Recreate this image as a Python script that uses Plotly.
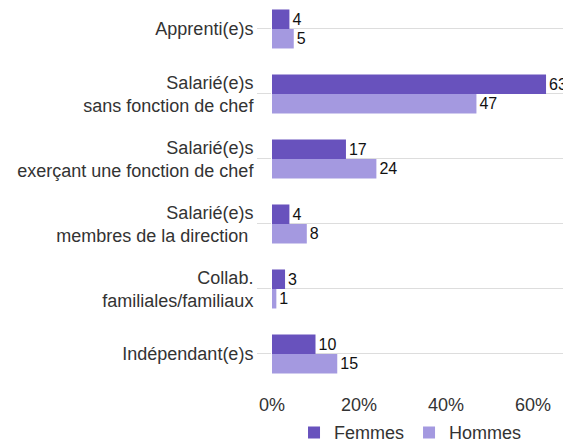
import plotly.graph_objects as go

categories = [
    "Apprenti(e)s",
    "Salarié(e)s<br>sans fonction de chef",
    "Salarié(e)s<br>exerçant une fonction de chef",
    "Salarié(e)s<br>membres de la direction\u00a0",
    "Collab.<br>familiales/familiaux",
    "Indépendant(e)s",
]
femmes = [4, 63, 17, 4, 3, 10]
hommes = [5, 47, 24, 8, 1, 15]
x_ticks = [0, 20, 40, 60]

FONT = "Liberation Sans, Arial, sans-serif"

fig = go.Figure()
fig.add_trace(go.Bar(
    y=categories, x=femmes, name="Femmes", orientation="h",
    marker=dict(color="#6852bd", line=dict(width=0)),
    text=[str(v) for v in femmes], textposition="outside", cliponaxis=False,
    constraintext="none",
    textfont=dict(size=16, color="#111111", family=FONT),
))
fig.add_trace(go.Bar(
    y=categories, x=hommes, name="Hommes", orientation="h",
    marker=dict(color="#a499e0", line=dict(width=0)),
    text=[str(v) for v in hommes], textposition="outside", cliponaxis=False,
    constraintext="none",
    textfont=dict(size=16, color="#111111", family=FONT),
))

fig.update_layout(
    width=563, height=444,
    margin=dict(l=272, r=0, t=0, b=59, autoexpand=False),
    barmode="group", bargap=0.4, bargroupgap=0,
    plot_bgcolor="white", paper_bgcolor="white",
    font=dict(family=FONT, size=18, color="#333333"),
    showlegend=True,
    legend=dict(orientation="h", x=0.476, xanchor="center", y=-0.076, yanchor="top",
                font=dict(size=18, color="#333333"), itemwidth=30,
                traceorder="normal"),
)
fig.update_xaxes(
    range=[0, 66.9], tickvals=x_ticks, ticktext=[f"{v}%" for v in x_ticks],
    showgrid=False, zeroline=False, showline=False, automargin=False,
    ticks="outside", ticklen=3, tickcolor="rgba(0,0,0,0)",
    tickfont=dict(size=18, color="#333333"),
)
fig.update_yaxes(
    type="category", range=[5.477, -0.446], automargin=False,
    showgrid=True, gridcolor="#dddddd", gridwidth=1,
    ticks="outside", ticklen=14, tickcolor="#dddddd",
    zeroline=False, showline=False,
    tickfont=dict(size=18, color="#333333"),
)

fig.write_html("out.html", config={"displayModeBar": False},
               post_script="document.body.style.margin='0';")
